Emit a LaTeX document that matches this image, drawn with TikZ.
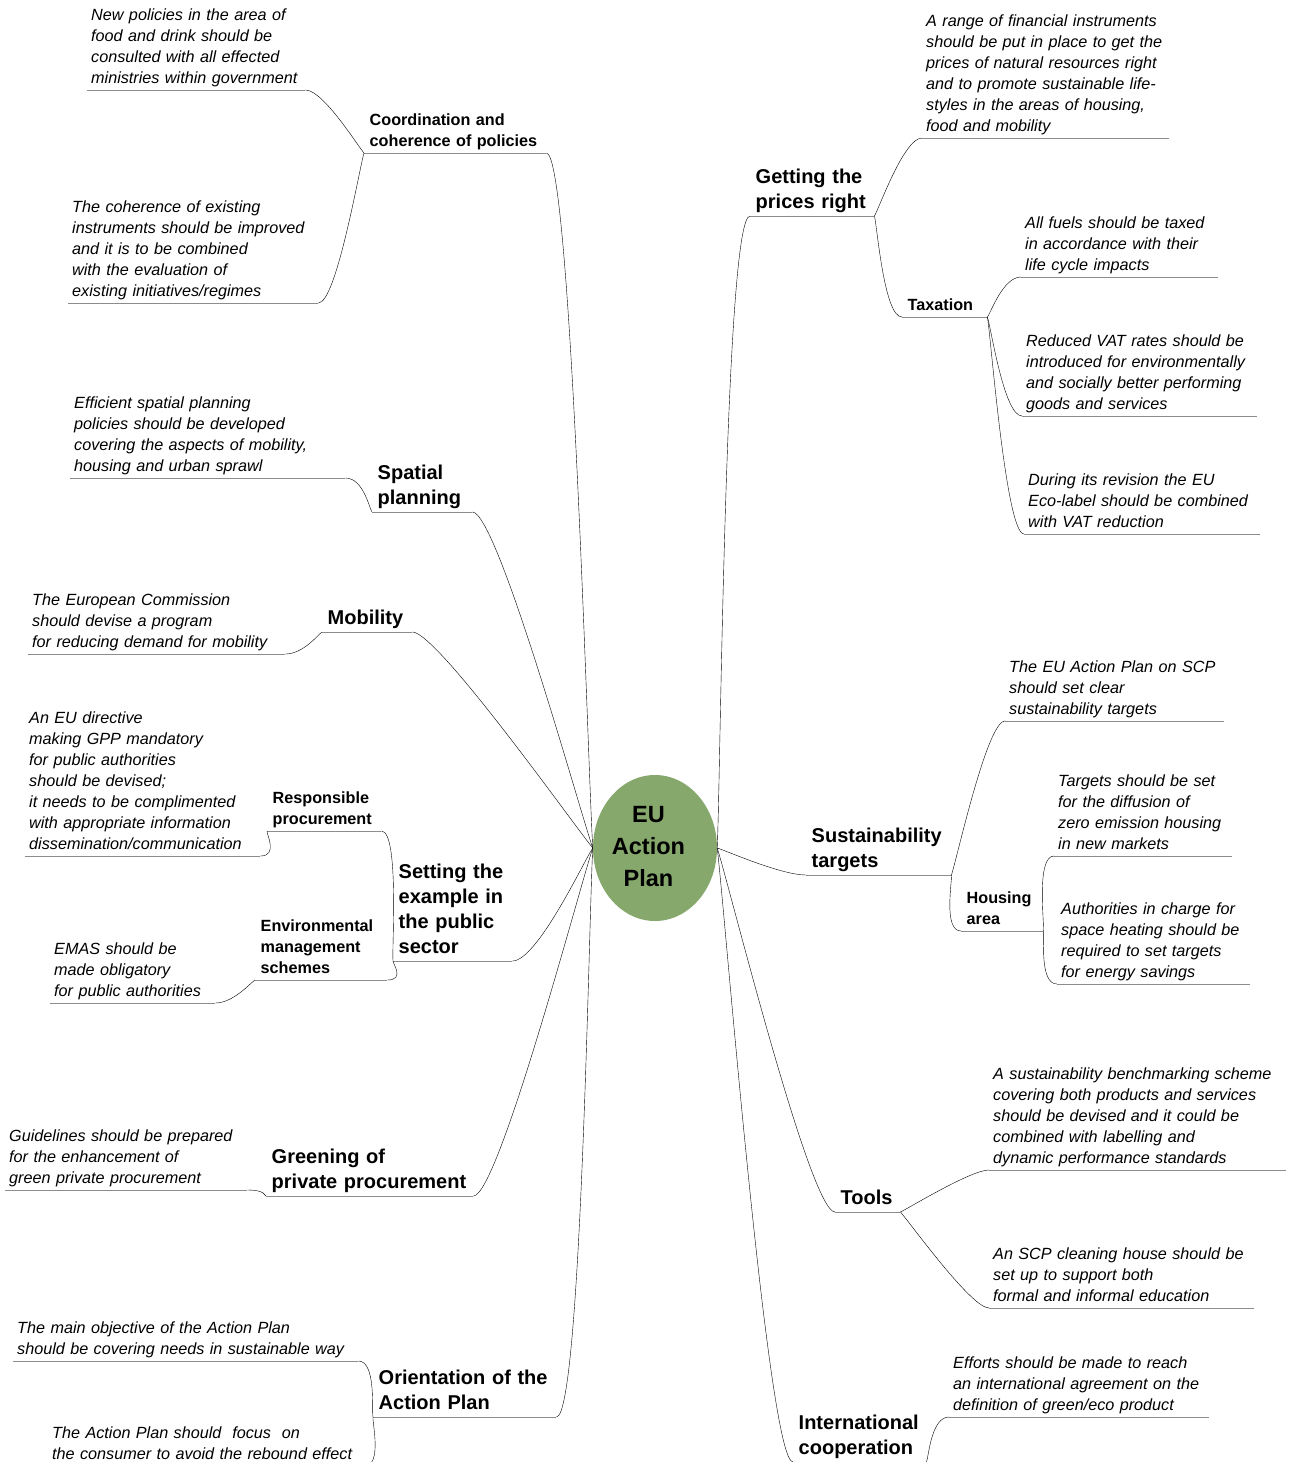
\documentclass[tikz,border=0pt]{standalone}
\usepackage{fontspec}
\setmainfont{Liberation Sans}
\usetikzlibrary{shapes.geometric,calc}
\definecolor{hubgreen}{RGB}{134,168,108}
\definecolor{wiregray}{RGB}{140,140,140}
\tikzset{
  wire/.style={draw=wiregray, line width=0.9pt},
  link/.style={wire, to path={.. controls ($(\tikztostart)!0.1!(\tikztotarget)$) and ($(\tikztotarget)+(#1,0)$) .. (\tikztotarget)}},
  topic/.style={anchor=south west, align=left, inner xsep=4pt, inner ysep=0.2pt,
    execute at end node=\strut,
    append after command={(\tikzlastnode.south west) edge[wire] (\tikzlastnode.south east)}},
  leaf/.style={topic, text width=#1, font=\fontsize{16.2}{21}\selectfont\itshape},
  sub/.style={topic, inner xsep=5.5pt, text width=#1, font=\fontsize{16.2}{21}\selectfont\bfseries},
  branch/.style={topic, inner xsep=5.5pt, text width=#1, font=\fontsize{20}{25}\selectfont\bfseries},
  hub/.style={ellipse, fill=hubgreen, minimum width=124pt, minimum height=146pt, inner sep=0pt,
    font=\fontsize{23.5}{32}\selectfont\bfseries}
}
\begin{document}
\begin{tikzpicture}[x=1pt, y=-1pt]
	\useasboundingbox (0,0) rectangle (1293,1462);
	\node[hub] (eu) at (655,848) {\begin{tabular}{@{}c@{}}EU\\Action\\Plan\end{tabular}\hspace*{13pt}\mbox{}};

	\node[sub=171pt] (coord) at (364,153) {Coordination and\\coherence of policies};
	\node[leaf=210pt] (np) at (87,90) {New policies in the area of\\food and drink should be\\consulted with all effected\\ministries within government};
	\node[leaf=242pt] (ci) at (68,303) {The coherence of existing\\instruments should be improved\\and it is to be combined\\with the evaluation of\\existing initiatives/regimes};
	\node[branch=89pt] (sp) at (372,512) {Spatial\\planning};
	\node[leaf=267pt] (esp) at (70,478) {Efficient spatial planning\\policies should be developed\\covering the aspects of mobility,\\housing and urban sprawl};
	\node[branch=79pt] (mob) at (322,632) {Mobility};
	\node[leaf=249pt] (ec) at (28,654) {The European Commission\\should devise a program\\for reducing demand for mobility};
	\node[branch=108pt] (set) at (393,961) {Setting the\\example in\\the public\\sector};
	\node[sub=103pt] (rp) at (267,831) {Responsible\\procurement};
	\node[leaf=227pt] (dir) at (25,856) {An EU directive\\making GPP mandatory\\for public authorities\\should be devised;\\it needs to be complimented\\with appropriate information\\dissemination/communication};
	\node[sub=121pt] (ems) at (255,980) {Environmental\\management\\schemes};
	\node[leaf=157pt] (emas) at (50,1003) {EMAS should be\\made obligatory\\for public authorities};
	\node[branch=196pt] (gpp) at (266,1196) {Greening of\\private procurement};
	\node[leaf=234pt] (gl) at (5,1190) {Guidelines should be prepared\\for the enhancement of\\green private procurement};
	\node[branch=172pt] (ori) at (373,1417) {Orientation of the\\Action Plan};
	\node[leaf=337pt] (mo) at (13,1361) {The main objective of the Action Plan\\should be covering needs in sustainable way};
	\node[leaf=308pt] (foc) at (48,1466) {The Action Plan should~ focus~ on\\the consumer to avoid the rebound effect};

	\node[branch=113pt] (gpr) at (750,216) {Getting the\\prices right};
	\node[leaf=239pt] (fin) at (922,138) {A range of financial instruments\\should be put in place to get the\\prices of natural resources right\\and to promote sustainable life-\\styles in the areas of housing,\\food and mobility};
	\node[sub=74pt] (tax) at (902,317) {Taxation};
	\node[leaf=189pt] (fuel) at (1021,277) {All fuels should be taxed\\in accordance with their\\life cycle impacts};
	\node[leaf=227pt] (vat) at (1022,416) {Reduced VAT rates should be\\introduced for environmentally\\and socially better performing\\goods and services};
	\node[leaf=228pt] (eco) at (1024,534) {During its revision the EU\\Eco-label should be combined\\with VAT reduction};
	\node[branch=134pt] (sus) at (806,875) {Sustainability\\targets};
	\node[leaf=211pt] (scp) at (1005,721) {The EU Action Plan on SCP\\should set clear\\sustainability targets};
	\node[sub=71pt] (hou) at (961,931) {Housing\\area};
	\node[leaf=170pt] (zero) at (1054,856) {Targets should be set\\for the diffusion of\\zero emission housing\\in new markets};
	\node[leaf=185pt] (auth) at (1057,984) {Authorities in charge for\\space heating should be\\required to set targets\\for energy savings};
	\node[branch=54pt] (tools) at (835,1212) {Tools};
	\node[leaf=289pt] (bench) at (989,1170) {A sustainability benchmarking scheme\\covering both products and services\\should be devised and it could be\\combined with labelling and\\dynamic performance standards};
	\node[leaf=257pt] (clean) at (989,1308) {An SCP cleaning house should be\\set up to support both\\formal and informal education};
	\node[branch=122pt] (int) at (793,1462) {International\\cooperation};
	\node[leaf=252pt] (eff) at (949,1417) {Efforts should be made to reach\\an international agreement on the\\definition of green/eco product};

	\foreach \b in {coord,sp,mob,set,gpp,ori}
	\draw (eu.west) to[link=25] (\b.south east);
	\foreach \b in {gpr,sus,tools,int}
	\draw (eu.east) to[link=-25] (\b.south west);
	\foreach \p/\c in {coord/np,coord/ci,sp/esp,mob/ec,set/rp,set/ems,rp/dir,ems/emas,gpp/gl,ori/mo,ori/foc}
	\draw (\p.south west) to[link=18] (\c.south east);
	\foreach \p/\c in {gpr/fin,gpr/tax,tax/fuel,tax/vat,tax/eco,sus/scp,sus/hou,hou/zero,hou/auth,tools/bench,tools/clean,int/eff}
	\draw (\p.south east) to[link=-18] (\c.south west);
\end{tikzpicture}
\end{document}
